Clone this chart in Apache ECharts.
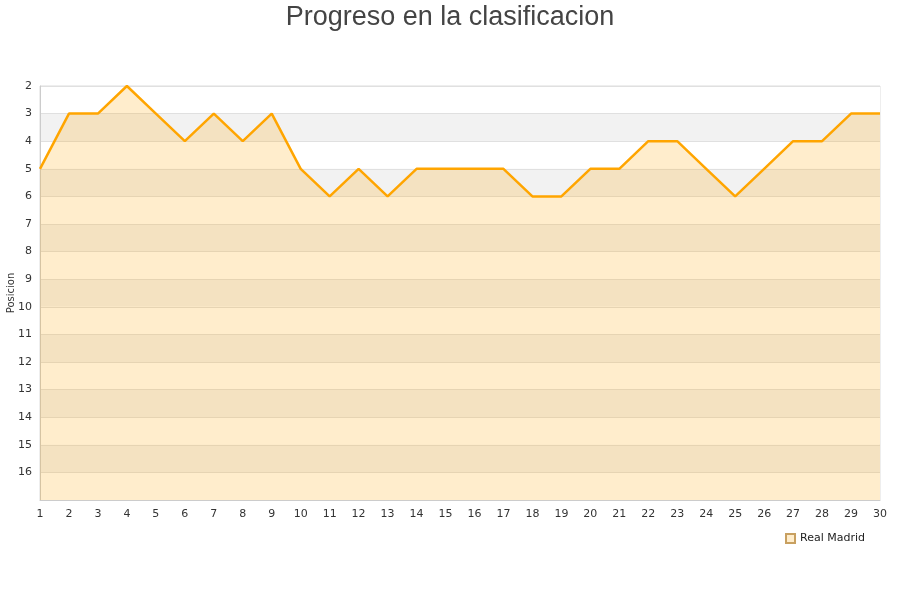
<!DOCTYPE html>
<html><head><meta charset="utf-8">
<script src="https://cdn.jsdelivr.net/npm/echarts@6/dist/echarts.min.js"></script>
<style>html,body{margin:0;padding:0;background:#fff}#c{width:900px;height:600px}</style>
</head><body><div id="c"></div>
<script>
const jornadas = [1,2,3,4,5,6,7,8,9,10,11,12,13,14,15,16,17,18,19,20,21,22,23,24,25,26,27,28,29,30];
const posiciones = [5,3,3,2,3,4,3,4,3,5,6,5,6,5,5,5,5,6,6,5,5,4,4,5,6,5,4,4,3,3];
const equipo = 'Real Madrid';
const titulo = 'Progreso en la clasificacion';
const ejeY = 'Posicion';

const chart = echarts.init(document.getElementById('c'));
chart.setOption({
  animation: false,
  title: {text: titulo, left: 'center', top: -1,
    textStyle: {fontFamily: 'Liberation Sans, Arial', fontSize: 27, fontWeight: 'normal', color: '#444'}},
  legend: {data: [{name: equipo, icon: 'rect'}], right: 30, top: 528, itemWidth: 9, itemHeight: 9, itemGap: 8,
    textStyle: {fontFamily: 'DejaVu Sans', fontSize: 11, color: '#222'}},
  grid: {left: 40, right: 20, top: 86, bottom: 100, show: true, borderColor: '#ddd', borderWidth: 1,
    outerBoundsMode: 'none', containLabel: false},
  xAxis: {type: 'category', data: jornadas, boundaryGap: false,
    axisLine: {lineStyle: {color: '#ccc'}}, axisTick: {show: false},
    axisLabel: {color: '#333', fontFamily: 'DejaVu Sans', fontSize: 11, margin: 9},
    splitLine: {show: false}},
  yAxis: {type: 'value', inverse: true, min: 2, max: 17, interval: 1,
    name: ejeY, nameLocation: 'middle', nameGap: 24, nameRotate: 90, nameMoveOverlap: false,
    nameTextStyle: {fontFamily: 'DejaVu Sans', fontSize: 10, color: '#333'},
    axisLine: {show: true, lineStyle: {color: '#ccc'}}, axisTick: {show: false},
    axisLabel: {color: '#333', fontFamily: 'DejaVu Sans', fontSize: 11, margin: 8,
      formatter: v => v === 17 ? '' : v},
    splitLine: {lineStyle: {color: '#e0e0e0'}},
    splitArea: {show: true, areaStyle: {color: ['#ffffff', '#f2f2f2'], opacity: 1}}},
  series: [{name: equipo, type: 'line', data: posiciones, symbol: 'none',
    lineStyle: {color: '#ffa500', width: 2.5},
    itemStyle: {color: '#ffedcc', borderColor: '#c8a060', borderWidth: 1},
    areaStyle: {color: 'rgba(255,165,0,0.2)', opacity: 1, origin: 'end'}}]
});
</script></body></html>
